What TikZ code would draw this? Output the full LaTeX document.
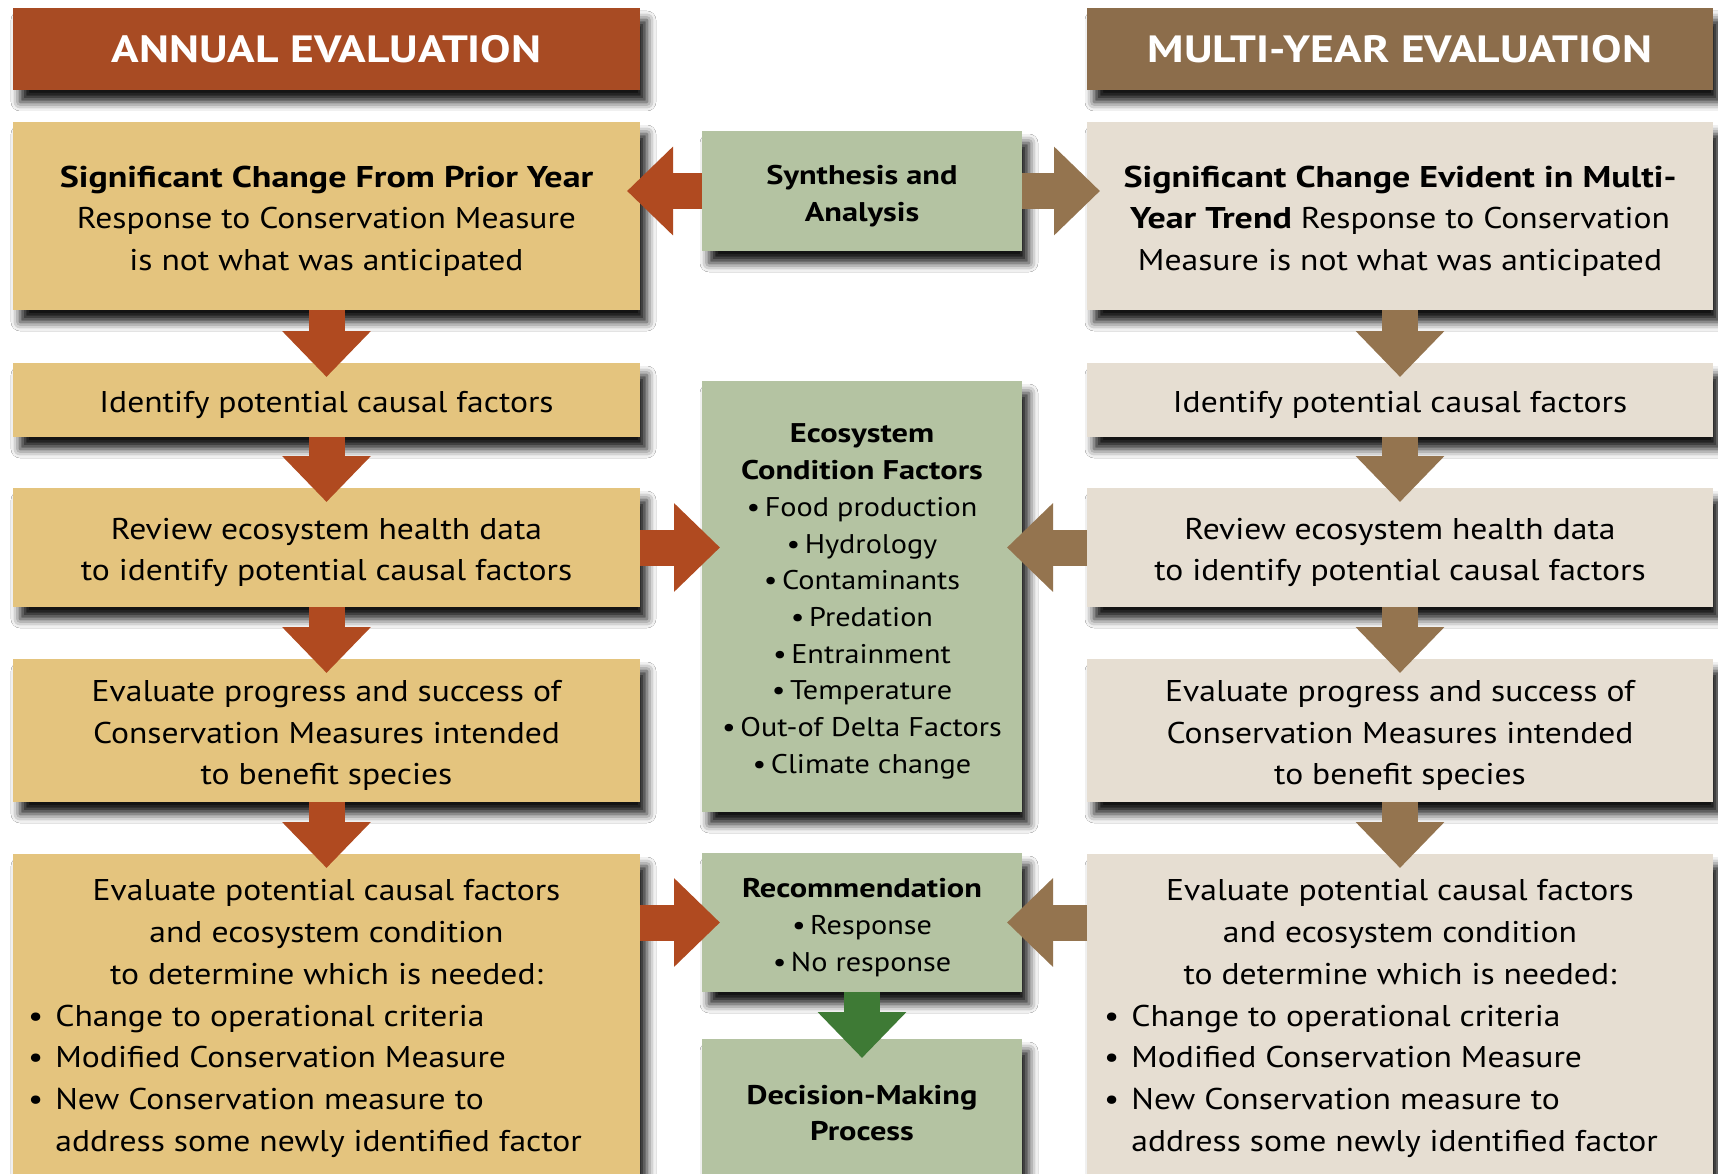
\documentclass[tikz,border=0pt]{standalone}
\usepackage{fontspec}
\setmainfont{PT Sans}[FakeStretch=1.12, BoldFeatures={FakeStretch=1.2}]
\usetikzlibrary{arrows.meta,shadows.blur,calc}

\definecolor{rust}{HTML}{A84B23}
\definecolor{rustarrow}{HTML}{B04A20}
\definecolor{umber}{HTML}{8C6D4B}
\definecolor{umberarrow}{HTML}{94744F}
\definecolor{tan}{HTML}{E4C47E}
\definecolor{linen}{HTML}{E6DED2}
\definecolor{sage}{HTML}{B4C3A2}
\definecolor{leaf}{HTML}{3E7A35}

\begin{document}
\begin{tikzpicture}[x=1pt,y=-1pt,
  panel/.style={rectangle, inner sep=0pt, outer sep=0pt,
    blur shadow={shadow xshift=7pt, shadow yshift=-12pt,
      shadow blur radius=9pt, shadow opacity=92}},
  leftcol/.style={panel, fill=tan, minimum width=627pt},
  rightcol/.style={panel, fill=linen, minimum width=626pt},
  midcol/.style={panel, fill=sage, minimum width=320pt},
  body/.style={font=\fontsize{30}{41.7}\selectfont, align=center, text=black},
  mid/.style={font=\fontsize{27}{36.7}\selectfont, align=center, text=black},
  inbox/.style={yshift=-5pt},
  headtxt/.style={font=\fontsize{38}{40}\selectfont\bfseries, text=white},
  flow/.style={line width=36pt, -{Triangle[length=46pt,width=86pt]}},
]
\useasboundingbox (0,0) rectangle (1718,1174);
\fill[white] (0,0) rectangle (1718,1174);

% column headers
\node[panel, fill=rust, minimum width=627pt, minimum height=82pt, headtxt]
  (hL) at (326.5,49) {ANNUAL EVALUATION};
\node[panel, fill=umber, minimum width=626pt, minimum height=82pt, headtxt]
  (hR) at (1400,49) {MULTI-YEAR EVALUATION};

% annual evaluation column
\node[leftcol, minimum height=188pt] (L1) at (326.5,216) {};
\node[leftcol, minimum height=74pt]  (L2) at (326.5,400) {};
\node[leftcol, minimum height=119pt] (L3) at (326.5,547.5) {};
\node[leftcol, minimum height=143pt] (L4) at (326.5,730.5) {};
\node[leftcol, minimum height=346pt] (L5) at (326.5,1027) {};

\node[body, inbox] (L1t) at (L1)
  {\textbf{Significant Change From Prior Year}\\Response to Conservation Measure\\is not what was anticipated};
\node[body, inbox] (L2t) at (L2) {Identify potential causal factors};
\node[body, inbox] (L3t) at (L3)
  {Review ecosystem health data\\to identify potential causal factors};
\node[body, inbox] (L4t) at (L4)
  {Evaluate progress and success of\\Conservation Measures intended\\to benefit species};
\node[body] (L5a) at (326.5,932)
  {Evaluate potential causal factors\\and ecosystem condition\\to determine which is needed:};
\node[body, align=left, anchor=west, inner sep=0pt] (L5b) at (28,1081)
  {•\hspace{12pt}Change to operational criteria\\
   •\hspace{12pt}Modified Conservation Measure\\
   •\hspace{12pt}New Conservation measure to\\
   \phantom{•}\hspace{12pt}address some newly identified factor};

% multi-year evaluation column
\node[rightcol, minimum height=188pt] (R1) at (1400,216) {};
\node[rightcol, minimum height=74pt]  (R2) at (1400,400) {};
\node[rightcol, minimum height=119pt] (R3) at (1400,547.5) {};
\node[rightcol, minimum height=143pt] (R4) at (1400,730.5) {};
\node[rightcol, minimum height=346pt] (R5) at (1400,1027) {};

\node[body, inbox] (R1t) at (R1)
  {\textbf{Significant Change Evident in Multi-}\\\textbf{Year Trend} Response to Conservation\\Measure is not what was anticipated};
\node[body, inbox] (R2t) at (R2) {Identify potential causal factors};
\node[body, inbox] (R3t) at (R3)
  {Review ecosystem health data\\to identify potential causal factors};
\node[body, inbox] (R4t) at (R4)
  {Evaluate progress and success of\\Conservation Measures intended\\to benefit species};
\node[body] (R5a) at (1400,932)
  {Evaluate potential causal factors\\and ecosystem condition\\to determine which is needed:};
\node[body, align=left, anchor=west, inner sep=0pt] (R5b) at (1104,1081)
  {•\hspace{12pt}Change to operational criteria\\
   •\hspace{12pt}Modified Conservation Measure\\
   •\hspace{12pt}New Conservation measure to\\
   \phantom{•}\hspace{12pt}address some newly identified factor};

% shared middle column
\node[midcol, minimum height=120pt] (Syn) at (862,191) {};
\node[midcol, minimum height=431pt] (Eco) at (862,596.5) {};
\node[midcol, minimum height=139pt] (Rec) at (862,922.5) {};
\node[midcol, minimum height=161pt] (Dec) at (862,1119.5) {};

\node[mid, inbox] (SynT) at (Syn) {\textbf{Synthesis and}\\\textbf{Analysis}};
\node[mid, inbox] (EcoT) at (Eco)
  {\textbf{Ecosystem}\\\textbf{Condition Factors}\\
   •\,Food production\\•\,Hydrology\\•\,Contaminants\\•\,Predation\\
   •\,Entrainment\\•\,Temperature\\•\,Out-of Delta Factors\\•\,Climate change};
\node[mid, inbox] (RecT) at (Rec)
  {\textbf{Recommendation}\\•\,Response\\•\,No response};
\node[mid] (DecT) at (862,1113) {\textbf{Decision-Making}\\\textbf{Process}};

% downward flow, annual column
\foreach \a/\b in {L1/L2, L2/L3, L3/L4, L4/L5}
  \draw[flow, rustarrow, shorten >=-14pt] (\a.south) -- (\b.north);
% downward flow, multi-year column
\foreach \a/\b in {R1/R2, R2/R3, R3/R4, R4/R5}
  \draw[flow, umberarrow, shorten >=-14pt] (\a.south) -- (\b.north);

% synthesis feeds both columns
\draw[flow, rustarrow, shorten >=-13pt] (Syn.west) -- (Syn.west -| L1.east);
\draw[flow, umberarrow, shorten >=-13pt] (Syn.east) -- (Syn.east -| R1.west);

% health data review feeds ecosystem factors
\draw[flow, rustarrow, shorten >=-18pt] (L3.east) -- (L3.east -| Eco.west);
\draw[flow, umberarrow, shorten >=-15pt] (R3.west) -- (R3.west -| Eco.east);

% evaluations feed the recommendation
\draw[flow, rustarrow, shorten >=-18pt] (Rec.west -| L5.east) -- (Rec.west);
\draw[flow, umberarrow, shorten >=-15pt] (Rec.east -| R5.west) -- (Rec.east);

% recommendation to decision-making
\draw[flow, leaf, shorten >=-19pt] (Rec.south) -- (Dec.north);
\end{tikzpicture}
\end{document}
